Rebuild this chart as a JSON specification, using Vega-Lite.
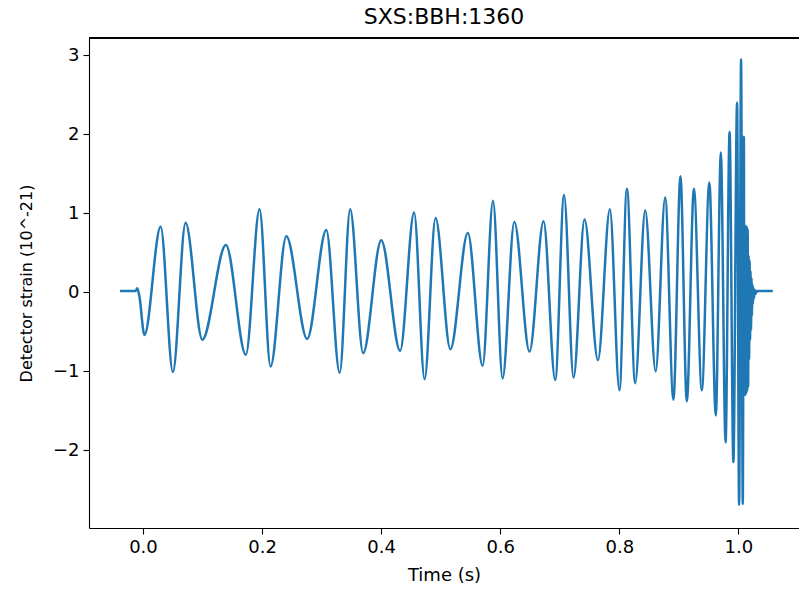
{
  "$schema": "https://vega.github.io/schema/vega-lite/v6.json",
  "autosize": {"type": "none"},
  "padding": {"left": 89, "top": 38, "right": 0, "bottom": 62},
  "width": 710,
  "height": 490,
  "background": "white",
  "title": {"text": "SXS:BBH:1360", "font": "DejaVu Sans", "fontSize": 22, "fontWeight": "normal", "color": "black", "anchor": "middle", "baseline": "alphabetic", "offset": 10, "dy": 19},
  "config": {
    "view": {"stroke": null},
    "axis": {"grid": false, "domainColor": "black", "domainWidth": 1.1, "tickColor": "black", "tickWidth": 1.1, "tickSize": 6, "labelFont": "DejaVu Sans", "labelFontSize": 18, "labelColor": "black", "labelPadding": 4, "titleFont": "DejaVu Sans", "titleFontSize": 18, "titleFontWeight": "normal", "titleColor": "black"}
  },
  "data": {"values": [
    {"t": -0.0386, "h": 0.015},
    {"t": -0.0125, "h": 0.015},
    {"t": -0.0095, "h": 0.05},
    {"t": -0.006, "h": -0.05},
    {"t": 0.0025, "h": -0.54},
    {"t": 0.0297, "h": 0.83},
    {"t": 0.0503, "h": -1.01},
    {"t": 0.0716, "h": 0.88},
    {"t": 0.0997, "h": -0.6},
    {"t": 0.1393, "h": 0.6},
    {"t": 0.1728, "h": -0.79},
    {"t": 0.1958, "h": 1.05},
    {"t": 0.2143, "h": -0.94},
    {"t": 0.2408, "h": 0.71},
    {"t": 0.2758, "h": -0.59},
    {"t": 0.3079, "h": 0.79},
    {"t": 0.3304, "h": -1.02},
    {"t": 0.348, "h": 1.05},
    {"t": 0.3698, "h": -0.77},
    {"t": 0.4002, "h": 0.66},
    {"t": 0.4319, "h": -0.74},
    {"t": 0.4554, "h": 1.01},
    {"t": 0.473, "h": -1.1},
    {"t": 0.4914, "h": 0.94},
    {"t": 0.5163, "h": -0.72},
    {"t": 0.5456, "h": 0.75},
    {"t": 0.5705, "h": -0.93},
    {"t": 0.5879, "h": 1.16},
    {"t": 0.604, "h": -1.09},
    {"t": 0.6237, "h": 0.89},
    {"t": 0.6492, "h": -0.75},
    {"t": 0.6728, "h": 0.9},
    {"t": 0.6924, "h": -1.11},
    {"t": 0.7072, "h": 1.23},
    {"t": 0.7232, "h": -1.08},
    {"t": 0.7416, "h": 0.92},
    {"t": 0.7641, "h": -0.86},
    {"t": 0.7842, "h": 1.05},
    {"t": 0.8002, "h": -1.24},
    {"t": 0.8128, "h": 1.31},
    {"t": 0.8267, "h": -1.15},
    {"t": 0.8435, "h": 1.04},
    {"t": 0.8611, "h": -1.0},
    {"t": 0.877, "h": 1.2},
    {"t": 0.8909, "h": -1.36},
    {"t": 0.9027, "h": 1.47},
    {"t": 0.9134, "h": -1.38},
    {"t": 0.9253, "h": 1.31},
    {"t": 0.9386, "h": -1.24},
    {"t": 0.9512, "h": 1.39},
    {"t": 0.9621, "h": -1.56},
    {"t": 0.9705, "h": 1.77},
    {"t": 0.9785, "h": -1.9},
    {"t": 0.9852, "h": 2.03},
    {"t": 0.9916, "h": -2.15},
    {"t": 0.9978, "h": 2.4},
    {"t": 1.0012, "h": -2.69},
    {"t": 1.0045, "h": 2.95},
    {"t": 1.0074, "h": -2.68},
    {"t": 1.0092, "h": 1.97},
    {"t": 1.01, "h": -1.3},
    {"t": 1.0108, "h": 0.84},
    {"t": 1.0116, "h": -1.3},
    {"t": 1.0124, "h": 0.84},
    {"t": 1.0132, "h": -1.28},
    {"t": 1.014, "h": 0.83},
    {"t": 1.0148, "h": -1.25},
    {"t": 1.0156, "h": 0.8},
    {"t": 1.0164, "h": -1.2},
    {"t": 1.0172, "h": 0.46},
    {"t": 1.018, "h": -0.85},
    {"t": 1.0188, "h": 0.4},
    {"t": 1.0196, "h": -0.6},
    {"t": 1.0204, "h": 0.27},
    {"t": 1.0212, "h": -0.48},
    {"t": 1.022, "h": 0.18},
    {"t": 1.0228, "h": -0.3},
    {"t": 1.0236, "h": 0.1},
    {"t": 1.0244, "h": -0.15},
    {"t": 1.0252, "h": 0.06},
    {"t": 1.026, "h": -0.08},
    {"t": 1.0275, "h": 0.03},
    {"t": 1.029, "h": -0.02},
    {"t": 1.031, "h": 0.015},
    {"t": 1.0577, "h": 0.015}
  ]},
  "layer": [
    {
      "mark": {"type": "line", "color": "#1f77b4", "strokeWidth": 2.5, "interpolate": "monotone", "clip": true},
      "encoding": {
        "x": {"field": "t", "type": "quantitative", "scale": {"domain": [-0.0906, 1.1018], "nice": false, "zero": false}, "axis": {"values": [0, 0.2, 0.4, 0.6, 0.8, 1.0], "format": ".1f", "title": "Time (s)", "titlePadding": 10}},
        "y": {"field": "h", "type": "quantitative", "scale": {"domain": [-2.984, 3.219], "nice": false, "zero": false}, "axis": {"values": [-2, -1, 0, 1, 2, 3], "format": "d", "title": "Detector strain (10^-21)", "titleFontSize": 16, "titlePadding": 18}}
      }
    },
    {
      "mark": {"type": "rule", "color": "black", "strokeWidth": 1.1},
      "encoding": {"y": {"datum": 3.219}}
    }
  ]
}
